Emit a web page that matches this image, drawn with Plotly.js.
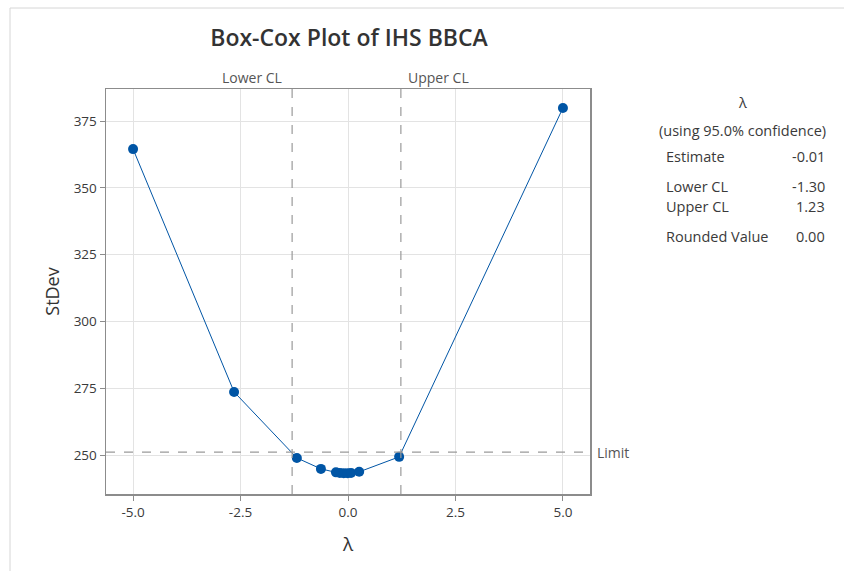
<!DOCTYPE html>
<html>
<head>
<meta charset="utf-8">
<script src="https://cdn.plot.ly/plotly-3.0.1.min.js"></script>
<style>html,body{margin:0;padding:0;background:#fff;}#chart{width:844px;height:571px;}</style>
</head>
<body>
<div id="chart"></div>
<script>
const lambdaVals = [-5.0, -2.65, -1.19, -0.63, -0.28, -0.19, -0.10, -0.01, 0.07, 0.26, 1.19, 5.0];
const stdevVals  = [364.5, 273.6, 248.9, 244.8, 243.5, 243.3, 243.2, 243.2, 243.3, 243.7, 249.3, 379.9];
const lowerCL = -1.30;
const upperCL = 1.23;
const limitVal = 251.1;
const xTicks = [-5.0, -2.5, 0.0, 2.5, 5.0];
const yTicks = [250, 275, 300, 325, 350, 375];
const tableLabels = ["Estimate", "Lower CL", "Upper CL", "Rounded Value"];
const tableValues = ["-0.01", "-1.30", "1.23", "0.00"];

const FONT = "'Open Sans', 'Noto Sans', sans-serif";
const blue = "#0055A5";
const dashCol = "#9a9a9a";
const txt = "#3a3a3a";

const trace = {
  x: lambdaVals, y: stdevVals, type: "scatter", mode: "lines+markers",
  line: {color: blue, width: 1}, marker: {color: blue, size: 10},
  hoverinfo: "skip", showlegend: false
};

const W = 844, H = 571, L = 106, R = 590, T = 89, B = 494;
const px = v => (v - L) / (R - L);
const py = v => (B - v) / (B - T);

const tableRowsY = [156, 186, 206, 236];
const SMALL = 13.5;
const TABLE = 14.5;
const annotations = [
  {xref: "x", yref: "paper", x: lowerCL, y: py(78), text: "Lower CL", showarrow: false,
   xanchor: "right", yanchor: "middle", xshift: -8, font: {family: FONT, size: 14, color: "#555"}},
  {xref: "x", yref: "paper", x: upperCL, y: py(78), text: "Upper CL", showarrow: false,
   xanchor: "left", yanchor: "middle", xshift: 5, font: {family: FONT, size: 14, color: "#555"}},
  {xref: "paper", yref: "y", x: px(595), y: limitVal, text: "Limit", showarrow: false,
   xanchor: "left", yanchor: "middle", font: {family: FONT, size: 14, color: "#555"}},
  {xref: "paper", yref: "paper", x: px(742), y: py(103), text: "λ", showarrow: false,
   xanchor: "center", yanchor: "middle", font: {family: FONT, size: TABLE, color: txt}},
  {xref: "paper", yref: "paper", x: px(742), y: py(130), text: "(using 95.0% confidence)", showarrow: false,
   xanchor: "center", yanchor: "middle", font: {family: FONT, size: TABLE, color: txt}}
];
tableLabels.forEach((lab, i) => {
  annotations.push({xref: "paper", yref: "paper", x: px(664), y: py(tableRowsY[i]), text: lab,
    showarrow: false, xanchor: "left", yanchor: "middle", font: {family: FONT, size: TABLE, color: txt}});
  annotations.push({xref: "paper", yref: "paper", x: px(827), y: py(tableRowsY[i]), text: tableValues[i],
    showarrow: false, xanchor: "right", yanchor: "middle", font: {family: FONT, size: TABLE, color: txt}});
});

const shapes = [
  {type: "line", xref: "x", yref: "paper", x0: lowerCL, x1: lowerCL, y0: 0, y1: 1,
   line: {color: dashCol, width: 1.2, dash: "dash"}},
  {type: "line", xref: "x", yref: "paper", x0: upperCL, x1: upperCL, y0: 0, y1: 1,
   line: {color: dashCol, width: 1.2, dash: "dash"}},
  {type: "line", xref: "paper", yref: "y", x0: 0, x1: 1, y0: limitVal, y1: limitVal,
   line: {color: dashCol, width: 1.2, dash: "dash"}},
  {type: "rect", xref: "paper", yref: "paper", x0: px(10), x1: px(900), y0: py(8), y1: py(700),
   line: {color: "#d6d6d6", width: 1}, layer: "below"}
];

const layout = {
  width: W, height: H,
  margin: {l: L, r: W - R, t: T, b: H - B, pad: 0},
  paper_bgcolor: "#fff", plot_bgcolor: "#fff",
  title: {text: "Box-Cox Plot of IHS BBCA", xref: "paper", x: px(349), xanchor: "center",
          yref: "container", y: 1 - 38 / H, yanchor: "middle",
          font: {family: FONT, size: 23, color: "#333", weight: 600}},
  xaxis: {
    range: [-5.63, 5.63], tickvals: xTicks, ticktext: xTicks.map(v => v.toFixed(1)),
    showgrid: true, gridcolor: "#e3e3e3", gridwidth: 1, zeroline: false,
    showline: true, linecolor: "#8c8c8c", linewidth: 1.5, mirror: true,
    ticks: "outside", ticklen: 5, tickcolor: "#8c8c8c",
    tickfont: {family: FONT, size: SMALL, color: txt},
    title: {text: "λ", font: {family: FONT, size: 19, color: "#333"}, standoff: 18}
  },
  yaxis: {
    range: [235.4, 387], tickvals: yTicks,
    showgrid: true, gridcolor: "#e3e3e3", gridwidth: 1, zeroline: false,
    showline: true, linecolor: "#8c8c8c", linewidth: 1.5, mirror: true,
    ticks: "outside", ticklen: 5, tickcolor: "#8c8c8c",
    tickfont: {family: FONT, size: SMALL, color: txt},
    title: {text: "StDev", font: {family: FONT, size: 18, color: "#333"}, standoff: 9}
  },
  annotations: annotations, shapes: shapes, showlegend: false
};

Plotly.newPlot("chart", [trace], layout, {displayModeBar: false, staticPlot: true});
</script>
</body>
</html>
